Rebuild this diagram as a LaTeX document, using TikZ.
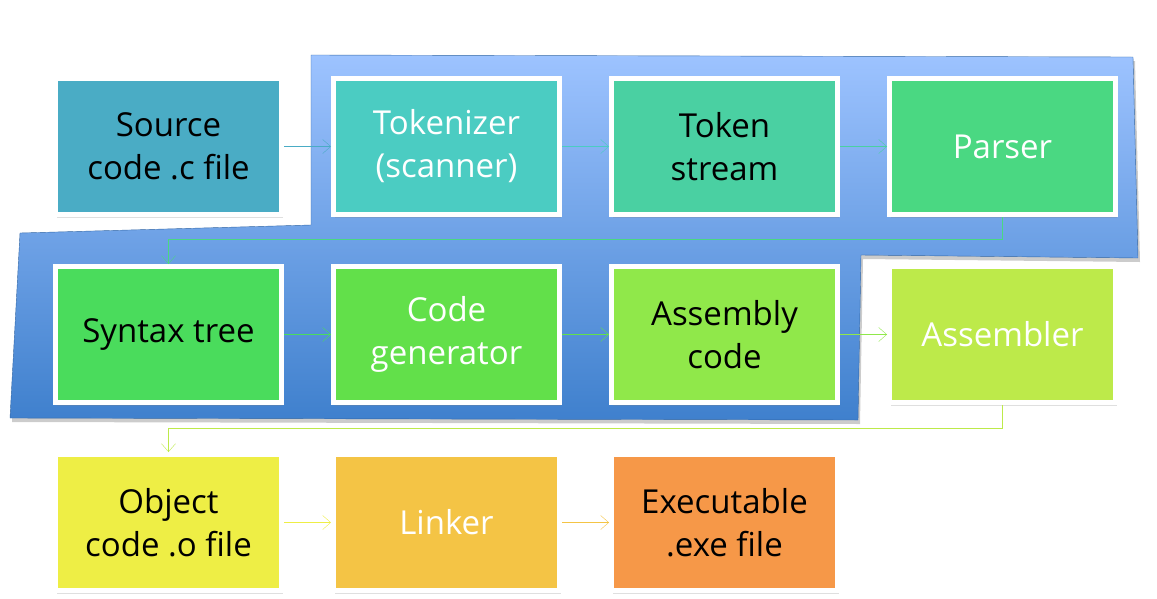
\documentclass[tikz,border=0pt]{standalone}
\usepackage{fontspec}
\setmainfont{Open Sans}
\usetikzlibrary{positioning,arrows.meta,shadows}
\definecolor{srccol}{HTML}{4AACC5}
\definecolor{tokcol}{HTML}{4BCCC2}
\definecolor{strcol}{HTML}{4AD0A2}
\definecolor{parcol}{HTML}{4AD882}
\definecolor{syncol}{HTML}{4ADC5C}
\definecolor{gencol}{HTML}{62E04A}
\definecolor{asmcol}{HTML}{90E84A}
\definecolor{abrcol}{HTML}{BDEA4A}
\definecolor{objcol}{HTML}{EEEE45}
\definecolor{lnkcol}{HTML}{F4C445}
\definecolor{execol}{HTML}{F69848}
\definecolor{bandtop}{HTML}{9DC3FF}
\definecolor{bandbot}{HTML}{3F80CD}
\tikzset{
  stage/.style={draw=white, line width=5pt, minimum width=226pt,
    minimum height=136pt, align=center, inner sep=0pt,
    font=\fontsize{33}{43}\selectfont,
    drop shadow={opacity=0.25, shadow xshift=1pt, shadow yshift=-3pt}},
  flow/.style={thin, -{Straight Barb[length=8pt, width=14pt]}}
}
\begin{document}
\begin{tikzpicture}[x=1pt, y=-1pt, node distance=47pt]
  \useasboundingbox (0,0) rectangle (1157,598);
  % band behind the first two rows
  \fill [black, opacity=0.2] (313,59) -- (1135,61) -- (1140,262) -- (863,259)
        -- (860,424) -- (12,422) -- (22,237) -- (313,229) -- cycle;
  \shade [top color=bandtop, bottom color=bandbot, draw=bandbot!80!black, thin]
        (311,55) -- (1133,57) -- (1138,258) -- (861,255) -- (858,420)
        -- (10,418) -- (20,233) -- (311,225) -- cycle;
  % stages
  \node [stage, fill=srccol] (src) at (168.5,146.5) {Source\\code .c file};
  \node [stage, fill=tokcol, text=white, right=of src] (tok) {Tokenizer\\(scanner)};
  \node [stage, fill=strcol, right=of tok] (str) {Token\\stream};
  \node [stage, fill=parcol, text=white, right=of str] (par) {Parser};
  \node [stage, fill=syncol, below=of src] (syn) {Syntax tree};
  \node [stage, fill=gencol, text=white, right=of syn] (gen) {Code\\generator};
  \node [stage, fill=asmcol, right=of gen] (asm) {Assembly\\code};
  \node [stage, fill=abrcol, text=white, right=of asm] (abr) {Assembler};
  \node [stage, fill=objcol, below=of syn] (obj) {Object\\code .o file};
  \node [stage, fill=lnkcol, text=white, right=of obj] (lnk) {Linker};
  \node [stage, fill=execol, right=of lnk] (exe) {Executable\\.exe file};
  % connectors
  \draw [flow, srccol] (src) -- (tok);
  \draw [flow, tokcol] (tok) -- (str);
  \draw [flow, strcol] (str) -- (par);
  \draw [flow, parcol] (par.south) -- ++(0,22) -| (syn.north);
  \draw [flow, syncol] (syn) -- (gen);
  \draw [flow, gencol] (gen) -- (asm);
  \draw [flow, asmcol] (asm) -- (abr);
  \draw [flow, abrcol] (abr.south) -- ++(0,23) -| (obj.north);
  \draw [flow, objcol] (obj) -- (lnk);
  \draw [flow, lnkcol] (lnk) -- (exe);
\end{tikzpicture}
\end{document}
